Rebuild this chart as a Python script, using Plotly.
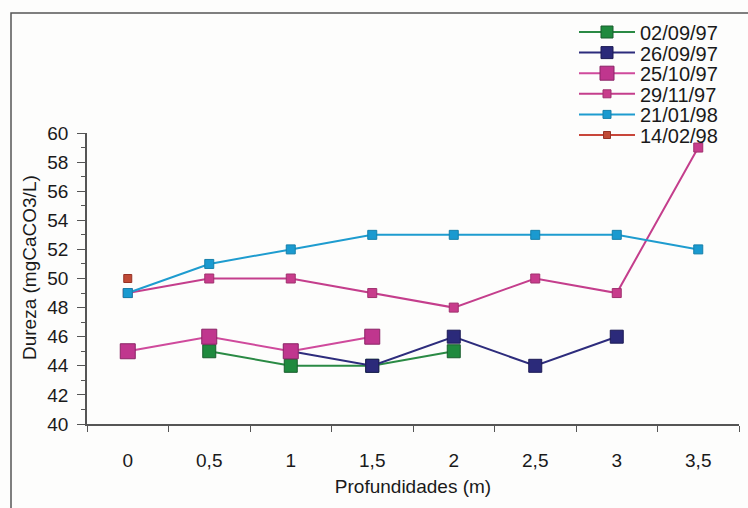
import plotly.graph_objects as go

# Depth categories (m) and hardness readings (mgCaCO3/L) per sampling date
depths = ["0", "0,5", "1", "1,5", "2", "2,5", "3", "3,5"]
dates = ["02/09/97", "26/09/97", "25/10/97", "29/11/97", "21/01/98", "14/02/98"]

d_020997 = [None, 45, 44, 44, 45, None, None, None]
d_260997 = [None, None, 45, 44, 46, 44, 46, None]
d_251097 = [45, 46, 45, 46, None, None, None, None]
d_291197 = [49, 50, 50, 49, 48, 50, 49, 59]
d_210198 = [49, 51, 52, 53, 53, 53, 53, 52]
d_140298 = [50, None, None, None, None, None, None, None]

series_values = [d_020997, d_260997, d_251097, d_291197, d_210198, d_140298]

line_colors = ["#2a8a44", "#2d2c7c", "#cf4a9c", "#c43e8c", "#1e9ccf", "#c8463a"]
marker_colors = ["#1f8a3e", "#2b2a7a", "#c0368e", "#c83c8c", "#1a9ad0", "#c04a36"]
marker_edges = ["#185c2c", "#1c1b55", "#8a2466", "#a0306e", "#1680aa", "#963226"]
marker_sizes = [13, 13, 15, 9, 9, 8]

FONT = "Liberation Sans, Arial, sans-serif"
W, H = 748, 508
L, R, T, B = 87, 9, 133, 84
PW, PH = W - L - R, H - T - B


def px_x(px):
    return (px - L) / PW


def px_y(py):
    return (H - B - py) / PH


xs = list(range(len(depths)))
fig = go.Figure()
for name, vals, lc, mc, me, ms in zip(dates, series_values, line_colors,
                                      marker_colors, marker_edges, marker_sizes):
    fig.add_trace(go.Scatter(
        x=xs, y=vals, name=name, mode="lines+markers",
        line=dict(color=lc, width=2),
        marker=dict(symbol="square", size=ms, color=mc,
                    line=dict(color=me, width=1)),
        connectgaps=False, showlegend=False, cliponaxis=False,
    ))

# Legend drawn as swatches + labels at the top right
shapes = []
annotations = []
for i, (name, lc, mc, me, ms) in enumerate(zip(dates, line_colors, marker_colors,
                                              marker_edges, marker_sizes)):
    yc = 32 + 20.6 * i
    shapes.append(dict(type="line", xref="paper", yref="paper",
                       x0=px_x(579), x1=px_x(635), y0=px_y(yc), y1=px_y(yc),
                       line=dict(color=lc, width=2)))
    s = ms - 1
    shapes.append(dict(type="rect", xref="paper", yref="paper",
                       x0=px_x(607 - s / 2), x1=px_x(607 + s / 2),
                       y0=px_y(yc - s / 2), y1=px_y(yc + s / 2),
                       fillcolor=mc, line=dict(color=me, width=1)))
    annotations.append(dict(xref="paper", yref="paper", x=px_x(638), y=px_y(yc + 1),
                            text=name, showarrow=False, xanchor="left",
                            yanchor="middle",
                            font=dict(family=FONT, size=20, color="#1a1a1a")))

# Outer chart frame (left and top edges)
shapes.append(dict(type="path", xref="paper", yref="paper",
                   path=f"M {px_x(11)} {px_y(520)} L {px_x(11)} {px_y(13)} L {px_x(760)} {px_y(13)}",
                   line=dict(color="#555555", width=1.5)))

# Y axis title
annotations.append(dict(xref="paper", yref="paper", x=px_x(29), y=px_y(268),
                        text="Dureza (mgCaCO3/L)", textangle=-90, showarrow=False,
                        xanchor="center", yanchor="middle",
                        font=dict(family=FONT, size=19, color="#1a1a1a")))

fig.update_layout(
    width=W, height=H,
    margin=dict(l=L, r=R, t=T, b=B, autoexpand=False),
    paper_bgcolor="#fdfdfc", plot_bgcolor="#fdfdfc",
    font=dict(family=FONT, size=19, color="#1a1a1a"),
    shapes=shapes, annotations=annotations, showlegend=False,
)
fig.update_xaxes(
    range=[-0.5, len(depths) - 0.5], tickmode="array", tickvals=xs, ticktext=depths,
    ticks="", showgrid=False, zeroline=False, showline=True,
    linecolor="#555555", linewidth=1.5, ticklabelstandoff=18,
    tickfont=dict(size=19),
    minor=dict(tick0=-0.5, dtick=1, ticks="outside", ticklen=6,
               tickcolor="#555555", tickwidth=1, showgrid=False),
    title=dict(text="Profundidades (m)", standoff=10, font=dict(size=19)),
    automargin=False,
)
fig.update_yaxes(
    range=[40, 60], tick0=40, dtick=2, ticks="outside", ticklen=8,
    tickcolor="#555555", tickwidth=1, showgrid=False, zeroline=False,
    showline=True, linecolor="#555555", linewidth=1.5, ticklabelstandoff=5,
    tickfont=dict(size=19),
    minor=dict(tick0=40, dtick=1, ticks="outside", ticklen=4,
               tickcolor="#555555", tickwidth=1, showgrid=False),
    automargin=False,
)

fig.write_html("out.html")
